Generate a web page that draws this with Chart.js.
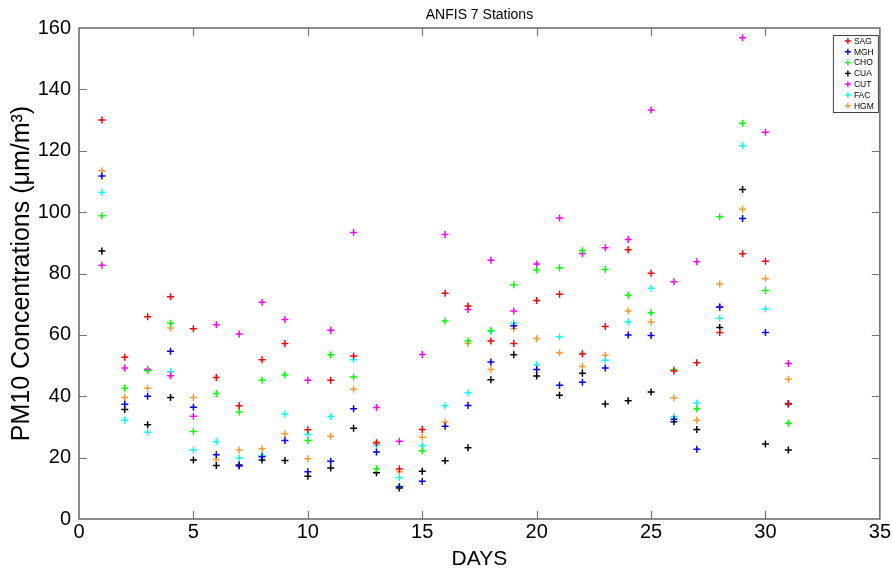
<!DOCTYPE html>
<html>
<head>
<meta charset="utf-8">
<script src="https://cdn.jsdelivr.net/npm/chart.js@4.4.0/dist/chart.umd.min.js"></script>
<style>
html,body{margin:0;padding:0;background:#fff;}
#wrap{width:892px;height:572px;}
</style>
</head>
<body>
<div id="wrap"><canvas id="c" width="892" height="572"></canvas></div>
<script>
const days = [1,2,3,4,5,6,7,8,9,10,11,12,13,14,15,16,17,18,19,20,21,22,23,24,25,26,27,28,29,30,31];
const stationNames = ['SAG','MGH','CHO','CUA','CUT','FAC','HGM'];
const stationColors = ['#ff0000','#0000ff','#00ff00','#000000','#ff00ff','#00ffff','#ff9933'];
const SAG = [130, 52.7, 65.9, 72.4, 62, 46.1, 36.9, 51.9, 57.2, 29.1, 45.2, 53.1, 24.8, 16.3, 29.2, 73.6, 69.4, 58, 57.2, 71.2, 73.2, 53.8, 62.7, 87.7, 80.1, 48.2, 50.9, 60.8, 86.4, 84, 37.5];
const MGH = [111.8, 37.4, 40, 54.7, 36.4, 20.9, 17.3, 20.3, 25.6, 15.4, 18.8, 35.9, 21.8, 10.5, 12.3, 30.2, 37, 51.2, 63, 48.7, 43.6, 44.6, 49.2, 60, 59.8, 32.5, 22.7, 69, 97.9, 60.8, 37.6];
const CHO = [98.8, 42.6, 48.3, 63.8, 28.5, 40.9, 34.9, 45.2, 46.9, 25.6, 53.5, 46.3, 16.4, 10.6, 22.2, 64.5, 58, 61.4, 76.3, 81.1, 81.9, 87.5, 81.3, 72.9, 67.2, 48.6, 35.9, 98.5, 129, 74.5, 31.2];
const CUA = [87.3, 35.7, 30.7, 39.6, 19.2, 17.4, 17.6, 19.2, 19.1, 13.9, 16.6, 29.6, 15.1, 10.1, 15.6, 19, 23.2, 45.4, 53.5, 46.6, 40.3, 47.5, 37.5, 38.5, 41.4, 31.7, 29.2, 62.4, 107.4, 24.4, 22.5];
const CUT = [82.7, 49.2, 48.8, 46.7, 33.5, 63.3, 60.3, 70.6, 65, 45.2, 61.5, 93.4, 36.3, 25.3, 53.6, 92.7, 68.3, 84.3, 67.8, 83.1, 98.1, 86.5, 88.4, 91.1, 133.3, 77.3, 83.8, 69.2, 156.8, 126, 50.7];
const FAC = [106.4, 32.2, 28.3, 48, 22.5, 25.2, 19.9, 20.6, 34.2, 27.6, 33.4, 51.9, 24, 13.5, 23.9, 36.9, 41.1, 61.2, 63.8, 50.3, 59.4, 54, 51.7, 64.2, 75.2, 33.3, 37.8, 65.4, 121.6, 68.4, 37.2];
const HGM = [113.5, 39.6, 42.6, 62.2, 39.6, 19.4, 22.5, 22.9, 27.8, 19.6, 27, 42.3, 25.1, 15.4, 26.6, 31.6, 57.2, 48.7, 62.1, 58.8, 54.2, 49.7, 53.4, 67.8, 64.2, 39.5, 32.2, 76.6, 100.9, 78.3, 45.5];
const xTicks = [0,5,10,15,20,25,30,35];
const yTicks = [0,20,40,60,80,100,120,140,160];

const seriesValues = [SAG, MGH, CHO, CUA, CUT, FAC, HGM];
const FONT = '"Liberation Sans", Arial, sans-serif';

const datasets = stationNames.map((name, i) => ({
  label: name,
  data: days.map((d, j) => ({x: d, y: seriesValues[i][j]})),
  pointStyle: 'cross',
  pointRadius: 3.5,
  pointHoverRadius: 3.5,
  pointBorderWidth: 1.5,
  borderColor: stationColors[i],
  backgroundColor: stationColors[i],
  showLine: false
}));

const framePlugin = {
  id: 'frame',
  afterDraw(chart) {
    const ctx = chart.ctx;
    const a = chart.chartArea;
    const xs = chart.scales.x, ys = chart.scales.y;
    ctx.save();
    ctx.strokeStyle = '#777';
    ctx.lineWidth = 1.2;
    ctx.beginPath();
    const tl = 8;
    xTicks.forEach(v => {
      if (v === xTicks[0] || v === xTicks[xTicks.length-1]) return;
      const px = Math.round(xs.getPixelForValue(v)) + 0.5;
      ctx.moveTo(px, a.bottom); ctx.lineTo(px, a.bottom - tl);
      ctx.moveTo(px, a.top); ctx.lineTo(px, a.top + tl);
    });
    yTicks.forEach(v => {
      if (v === yTicks[0] || v === yTicks[yTicks.length-1]) return;
      const py = Math.round(ys.getPixelForValue(v)) + 0.5;
      ctx.moveTo(a.left, py); ctx.lineTo(a.left + tl, py);
      ctx.moveTo(a.right, py); ctx.lineTo(a.right - tl, py);
    });
    ctx.stroke();
    ctx.strokeStyle = '#666';
    ctx.lineWidth = 1.5;
    ctx.strokeRect(a.left, a.top, a.right - a.left, a.bottom - a.top);

    // title
    ctx.fillStyle = '#000';
    ctx.font = '14px ' + FONT;
    ctx.textAlign = 'center';
    ctx.textBaseline = 'middle';
    ctx.fillText('ANFIS 7 Stations', (a.left + a.right) / 2, 15);

    // legend
    const bx = a.right - 47, by = a.top + 7, bw = 45, bh = 77;
    ctx.fillStyle = '#fff';
    ctx.fillRect(bx, by, bw, bh);
    ctx.strokeStyle = '#444';
    ctx.lineWidth = 1;
    ctx.strokeRect(bx + 0.5, by + 0.5, bw, bh);
    ctx.font = '8.5px ' + FONT;
    ctx.textAlign = 'left';
    chart.data.datasets.forEach((ds, i) => {
      const cy = by + 6 + i * 10.8;
      const cx = bx + 15;
      ctx.strokeStyle = ds.borderColor;
      ctx.lineWidth = 1.4;
      ctx.beginPath();
      ctx.moveTo(cx - 3, cy); ctx.lineTo(cx + 3, cy);
      ctx.moveTo(cx, cy - 3); ctx.lineTo(cx, cy + 3);
      ctx.stroke();
      ctx.fillStyle = '#000';
      ctx.fillText(ds.label, cx + 6, cy + 0.5);
    });
    ctx.restore();
  }
};

new Chart(document.getElementById('c'), {
  type: 'scatter',
  data: { datasets },
  options: {
    responsive: false,
    animation: false,
    events: [],
    layout: { padding: { top: 28, right: 10, left: 0, bottom: 0 } },
    plugins: { legend: { display: false }, title: { display: false }, tooltip: { enabled: false } },
    scales: {
      x: {
        type: 'linear', min: 0, max: 35,
        afterBuildTicks(s) { s.ticks = xTicks.map(v => ({value: v})); },
        afterFit(s) { s.height = 53; },
        grid: { display: false, drawTicks: false },
        border: { display: false },
        ticks: { color: '#000', font: { family: FONT, size: 20 }, padding: 1, maxRotation: 0 },
        title: { display: true, text: 'DAYS', color: '#000', font: { family: FONT, size: 21 }, padding: { top: 0, bottom: 0 } }
      },
      y: {
        type: 'linear', min: 0, max: 160,
        afterBuildTicks(s) { s.ticks = yTicks.map(v => ({value: v})); },
        afterFit(s) { s.width = 79; },
        grid: { display: false, drawTicks: false },
        border: { display: false },
        ticks: { color: '#000', font: { family: FONT, size: 20 }, padding: 8 },
        title: { display: true, text: 'PM10 Concentrations (μm/m³)', color: '#000', font: { family: FONT, size: 25 }, padding: { top: 7, bottom: 0 } }
      }
    }
  },
  plugins: [framePlugin]
});
</script>
</body>
</html>
